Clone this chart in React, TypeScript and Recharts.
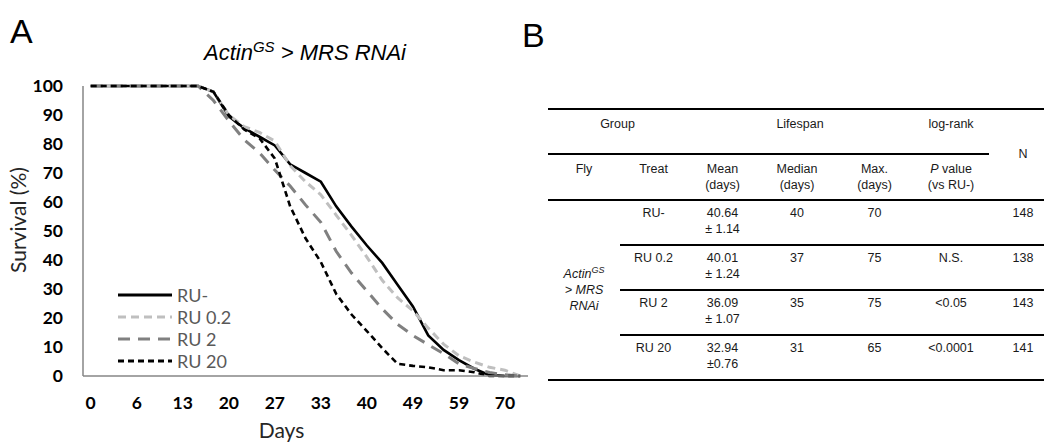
import { LineChart, Line, XAxis, YAxis, Legend } from 'recharts'

// observation days (category axis, every 3rd label shown)
const DAYS = [0, 2, 4, 6, 8, 11, 13, 15, 18, 20, 22, 25, 27, 29, 31, 33, 36, 38, 40, 43, 46, 49, 52, 55, 59, 62, 66, 70, 75]

const RU_MINUS = [100, 100, 100, 100, 100, 100, 100, 100, 98, 89.5, 85.5, 82.5, 79.5, 73, 70, 67, 58.5, 51.5, 45, 39, 31.5, 24, 14, 9, 5.5, 2.5, 0.3, 0, 0]
const RU_02 = [100, 100, 100, 100, 100, 100, 100, 100, 98, 90, 86, 84, 81, 72.5, 67, 62.5, 55.5, 48.5, 41, 33, 27, 22.5, 16.5, 11, 7, 4.8, 3, 2, 0]
const RU_2 = [100, 100, 100, 100, 100, 100, 100, 100, 95, 88, 81.5, 77, 71, 65.5, 59, 53, 43, 35.5, 29.3, 23.2, 17.8, 14, 10.8, 7.7, 4.2, 2.6, 1.2, 0.4, 0]
const RU_20 = [100, 100, 100, 100, 100, 100, 100, 100, 98, 90, 85, 82, 75, 58.5, 47.5, 39.3, 28.3, 21.2, 15.5, 9.6, 4.2, 3.5, 3, 2, 2, 1.3, 0, 0, 0]

const Y_TICKS = [0, 10, 20, 30, 40, 50, 60, 70, 80, 90, 100]

// table B
const TREATS = ['RU-', 'RU 0.2', 'RU 2', 'RU 20']
const MEANS = ['40.64', '40.01', '36.09', '32.94']
const SEMS = ['± 1.14', '± 1.24', '± 1.07', '±0.76']
const MEDIANS = ['40', '37', '35', '31']
const MAXES = ['70', '75', '75', '65']
const P_VALUES = ['', 'N.S.', '<0.05', '<0.0001']
const COUNTS = ['148', '138', '143', '141']

const SERIES = [
    { key: 'ruMinus', name: 'RU-', values: RU_MINUS },
    { key: 'ru02', name: 'RU 0.2', values: RU_02 },
    { key: 'ru2', name: 'RU 2', values: RU_2 },
    { key: 'ru20', name: 'RU 20', values: RU_20 },
]

const STROKE: Record<string, { color: string; width: number; dash?: string }> = {
    ruMinus: { color: '#000000', width: 2.6 },
    ru02: { color: '#bfbfbf', width: 3, dash: '8 5' },
    ru2: { color: '#808080', width: 3, dash: '12 8' },
    ru20: { color: '#000000', width: 2.6, dash: '6 4' },
}

const chartData = DAYS.map((day, i) => {
    const row: Record<string, number> = { day }
    SERIES.forEach(s => { row[s.key] = s.values[i] })
    return row
})

const AXIS_COLOR = '#868686'
const LATO = 'Lato, "Open Sans", sans-serif'
const ARIAL = '"Liberation Sans", Arial, sans-serif'

const tickStyle = { fontFamily: LATO, fontWeight: 700, fontSize: 17.5, fill: '#000' }

function SurvivalLabel({ viewBox }: any) {
    const cx = viewBox.x + 17
    const cy = viewBox.y + viewBox.height / 2 - 11
    return (
        <text
            x={cx}
            y={cy}
            transform={`rotate(-90 ${cx} ${cy})`}
            textAnchor="middle"
            dominantBaseline="central"
            fontFamily={LATO}
            fontSize={21}
            fill="#262626"
        >
            Survival (%)
        </text>
    )
}

function DaysLabel({ viewBox }: any) {
    // axis title sits a little left of the plot centre in the original
    const cx = viewBox.x + viewBox.width / 2 - 24
    return (
        <text x={cx} y={viewBox.y + viewBox.height - 4} textAnchor="middle" fontFamily={LATO} fontSize={21} fill="#262626">
            Days
        </text>
    )
}

function LegendBox() {
    return (
        <div style={{ fontFamily: LATO, fontSize: 18, color: '#595959' }}>
            {SERIES.map(s => {
                const st = STROKE[s.key]
                return (
                    <div key={s.key} style={{ display: 'flex', alignItems: 'center', height: 22 }}>
                        <svg width={56} height={8}>
                            <line x1={0} y1={4} x2={54} y2={4} stroke={st.color} strokeWidth={3} strokeDasharray={st.dash} />
                        </svg>
                        <span style={{ marginLeft: 3 }}>{s.name}</span>
                    </div>
                )
            })}
        </div>
    )
}

const rule = '2px solid #000'
const headCell = {
    fontWeight: 400,
    verticalAlign: 'top' as const,
    paddingTop: 6,
    paddingLeft: 0,
    paddingRight: 0,
}
const bodyCell = {
    verticalAlign: 'top' as const,
    paddingTop: 4,
    paddingLeft: 0,
    paddingRight: 0,
}
const COL_WIDTHS = [72, 67, 71, 78, 77, 76, 68]

function LifespanTable() {
    return (
        <table
            style={{
                position: 'absolute',
                left: 548,
                top: 108,
                width: COL_WIDTHS.reduce((a, b) => a + b, 0),
                borderCollapse: 'collapse',
                tableLayout: 'fixed',
                fontFamily: ARIAL,
                fontSize: 12.5,
                lineHeight: '16px',
                color: '#1a1a1a',
                textAlign: 'center',
            }}
        >
            <colgroup>
                {COL_WIDTHS.map((w, i) => <col key={i} style={{ width: w }} />)}
            </colgroup>
            <thead>
                <tr style={{ height: 45 }}>
                    <th colSpan={2} style={{ ...headCell, borderTop: rule, borderBottom: rule }}>Group</th>
                    <th colSpan={3} style={{ ...headCell, borderTop: rule, borderBottom: rule }}>Lifespan</th>
                    <th style={{ ...headCell, borderTop: rule, borderBottom: rule }}>log-rank</th>
                    <th rowSpan={2} style={{ ...headCell, verticalAlign: 'middle', paddingTop: 0, borderTop: rule, borderBottom: rule }}>N</th>
                </tr>
                <tr style={{ height: 46 }}>
                    <th style={{ ...headCell, borderBottom: rule }}>Fly</th>
                    <th style={{ ...headCell, borderBottom: rule }}>Treat</th>
                    <th style={{ ...headCell, borderBottom: rule }}>Mean<br />(days)</th>
                    <th style={{ ...headCell, borderBottom: rule }}>Median<br />(days)</th>
                    <th style={{ ...headCell, borderBottom: rule }}>Max.<br />(days)</th>
                    <th style={{ ...headCell, borderBottom: rule }}><i>P</i> value<br />(vs RU-)</th>
                </tr>
            </thead>
            <tbody>
                {TREATS.map((treat, i) => {
                    const top = i > 0 ? rule : undefined
                    const bottom = i === TREATS.length - 1 ? rule : undefined
                    const cell = { ...bodyCell, borderTop: top, borderBottom: bottom }
                    return (
                        <tr key={treat} style={{ height: 45 }}>
                            {i === 0 && (
                                <td rowSpan={TREATS.length} style={{ verticalAlign: 'middle', fontStyle: 'italic', borderBottom: rule, padding: 0 }}>
                                    Actin<sup style={{ fontSize: 9, lineHeight: 0 }}>GS</sup><br />&gt; MRS<br />RNAi
                                </td>
                            )}
                            <td style={cell}>{treat}</td>
                            <td style={cell}>{MEANS[i]}<br />{SEMS[i]}</td>
                            <td style={cell}>{MEDIANS[i]}</td>
                            <td style={cell}>{MAXES[i]}</td>
                            <td style={cell}>{P_VALUES[i]}</td>
                            <td style={cell}>{COUNTS[i]}</td>
                        </tr>
                    )
                })}
            </tbody>
        </table>
    )
}

export default function App() {
    return (
        <div style={{ position: 'fixed', left: 0, top: 0, width: 1044, height: 442, overflow: 'hidden', background: '#fff' }}>
            <div style={{ position: 'absolute', left: 10, top: 14, fontFamily: ARIAL, fontSize: 34, lineHeight: 1 }}>A</div>
            <div style={{ position: 'absolute', left: 522, top: 18, fontFamily: ARIAL, fontSize: 34, lineHeight: 1 }}>B</div>
            <div
                style={{
                    position: 'absolute',
                    left: 150,
                    top: 39,
                    width: 310,
                    textAlign: 'center',
                    fontFamily: ARIAL,
                    fontStyle: 'italic',
                    fontSize: 22,
                    lineHeight: 1,
                }}
            >
                Actin<span style={{ fontSize: 15, verticalAlign: '0.55em' }}>GS</span> &gt; MRS RNAi
            </div>

            <div style={{ position: 'absolute', left: 0, top: 0 }}>
                <LineChart width={540} height={442} data={chartData} margin={{ top: 86, right: 12, bottom: 0, left: 0 }}>
                    <XAxis
                        dataKey="day"
                        interval={2}
                        padding={{ left: 7.7, right: 7.7 }}
                        height={66}
                        tickLine={false}
                        tickSize={0}
                        tickMargin={21}
                        tick={tickStyle}
                        axisLine={{ stroke: AXIS_COLOR, strokeWidth: 1.5 }}
                        label={<DaysLabel />}
                    />
                    <YAxis
                        domain={[0, 100]}
                        ticks={Y_TICKS}
                        interval={0}
                        width={83}
                        tickLine={false}
                        tickSize={0}
                        tickMargin={20}
                        tick={tickStyle}
                        axisLine={{ stroke: AXIS_COLOR, strokeWidth: 1.5 }}
                        label={<SurvivalLabel />}
                    />
                    <Legend
                        layout="vertical"
                        align="center"
                        verticalAlign="middle"
                        wrapperStyle={{ left: 118, top: 284, width: 'auto', height: 'auto' }}
                        content={() => <LegendBox />}
                    />
                    {SERIES.map(s => (
                        <Line
                            key={s.key}
                            type="linear"
                            dataKey={s.key}
                            name={s.name}
                            stroke={STROKE[s.key].color}
                            strokeWidth={STROKE[s.key].width}
                            strokeDasharray={STROKE[s.key].dash}
                            dot={false}
                            activeDot={false}
                            isAnimationActive={false}
                        />
                    ))}
                </LineChart>
            </div>
            <LifespanTable />
        </div>
    )
}
